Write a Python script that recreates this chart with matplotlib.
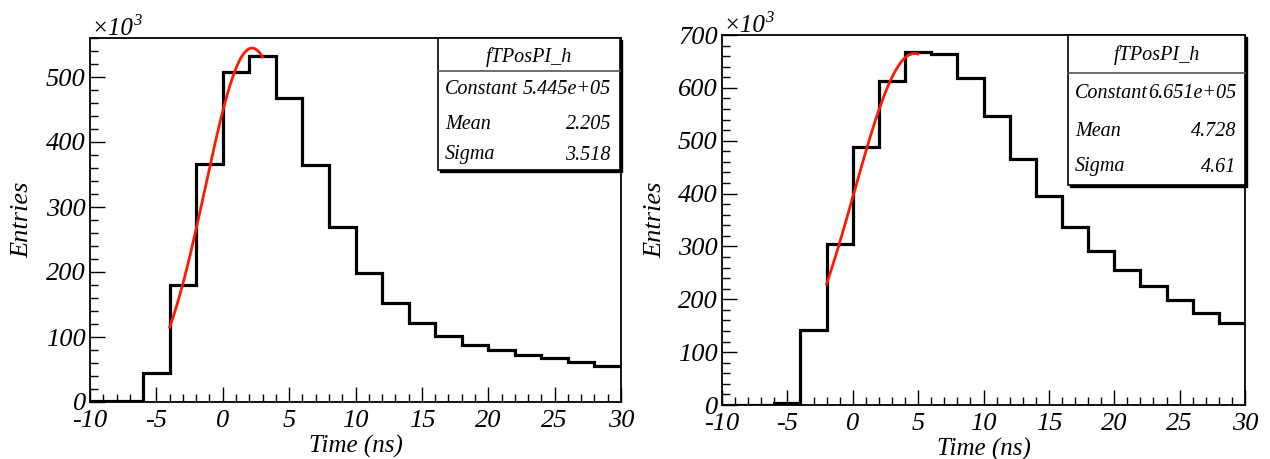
import numpy as np
import matplotlib
matplotlib.use('Agg')
import matplotlib.pyplot as plt
from matplotlib.patches import Rectangle
from matplotlib.ticker import MultipleLocator

plt.rcParams['font.family'] = 'Liberation Serif'
plt.rcParams['font.style'] = 'italic'
plt.rcParams['axes.unicode_minus'] = False

# bin edges (ns) and contents (x10^3 entries)
edges = np.arange(-10, 31, 2)
left_counts = [1, 1, 44, 180, 366, 508, 533, 468, 364, 270, 199, 152, 121, 101, 88, 80, 73, 67, 61, 55]
right_counts = [0, 0, 4, 141, 304, 489, 613, 668, 665, 619, 546, 466, 395, 336, 292, 255, 225, 198, 175, 156]

# gaussian fit results
left_fit = {'Constant': 5.445e5, 'Mean': 2.205, 'Sigma': 3.518}
right_fit = {'Constant': 6.651e5, 'Mean': 4.728, 'Sigma': 4.61}
left_fit_range = (-4, 3)
right_fit_range = (-2, 5)
left_labels = ['5.445e+05', '2.205', '3.518']
right_labels = ['6.651e+05', '4.728', '4.61']

W, H = 1270, 459
fig = plt.figure(figsize=(W / 100, H / 100), dpi=100)


def fx(px):
    return px / W


def fy(py):
    return 1 - py / H


def panel(x0, x1, y0, y1, counts, fit, frange, ymax, flabels, box, rows_y, sep_y):
    ax = fig.add_axes([fx(x0), fy(y1), fx(x1) - fx(x0), fy(y0) - fy(y1)])
    ax.stairs(counts, edges, color='black', lw=2.3, baseline=None)
    xs = np.linspace(frange[0], frange[1], 200)
    ys = fit['Constant'] * np.exp(-0.5 * ((xs - fit['Mean']) / fit['Sigma']) ** 2) / 1000
    ax.plot(xs, ys, color='#ff1a00', lw=2)
    ax.set_xlim(-10, 30)
    ax.set_ylim(0, ymax)
    ax.xaxis.set_major_locator(MultipleLocator(5))
    ax.xaxis.set_minor_locator(MultipleLocator(1))
    ax.yaxis.set_major_locator(MultipleLocator(100))
    ax.yaxis.set_minor_locator(MultipleLocator(20))
    ax.tick_params(which='both', direction='in', top=False, right=False, width=1)
    ax.tick_params(which='major', length=11, labelsize=19)
    ax.tick_params(which='minor', length=6)
    ax.tick_params(axis='x', pad=6)
    ax.tick_params(axis='y', pad=3)
    for s in ax.spines.values():
        s.set_linewidth(1.3)
    ax.set_xlabel('Time (ns)', fontsize=18, labelpad=0)
    ax.set_ylabel('Entries', fontsize=19, labelpad=6)
    ax.xaxis.set_label_coords(0.5, -0.09)
    ax.yaxis.set_label_coords(-0.106, 0.5)

    # x10^3 marker
    fig.text(fx(x0 + 1), fy(y0 - 3), '\u00d710', fontsize=18, va='baseline', ha='left')
    fig.text(fx(x0 + 43), fy(y0 - 13), '3', fontsize=12, va='baseline', ha='left')

    # stats box
    bx0, bx1, by0, by1 = box
    shadow = Rectangle((fx(bx0 + 2), fy(by1 + 2)), fx(bx1) - fx(bx0), fy(by0) - fy(by1),
                       transform=fig.transFigure, facecolor='black', edgecolor='black', lw=1, zorder=5)
    rect = Rectangle((fx(bx0), fy(by1)), fx(bx1) - fx(bx0), fy(by0) - fy(by1),
                     transform=fig.transFigure, facecolor='white', edgecolor='black', lw=1.2, zorder=6)
    fig.patches.extend([shadow, rect])
    fig.add_artist(plt.Line2D([fx(bx0), fx(bx1)], [fy(sep_y), fy(sep_y)], transform=fig.transFigure,
                              color='#555555', lw=1.2, zorder=7))
    fig.text(fx((bx0 + bx1) / 2), fy(rows_y[0]), 'fTPosPI_h', fontsize=14.5, ha='center', va='center', zorder=8)
    for name, val, yy in zip(['Constant', 'Mean', 'Sigma'], flabels, rows_y[1:]):
        fig.text(fx(bx0 + 7), fy(yy), name, fontsize=14.5, ha='left', va='center', zorder=8)
        fig.text(fx(bx1 - 9), fy(yy), val, fontsize=14.5, ha='right', va='center', zorder=8)
    return ax


panel(90, 621, 38, 402, left_counts, left_fit, left_fit_range, 560, left_labels,
      (438, 620, 38, 170), [57, 89, 124, 155], 71)
panel(722, 1245, 35, 405, right_counts, right_fit, right_fit_range, 700, right_labels,
      (1068, 1245, 35, 185), [55, 93, 132, 167], 73)

fig.savefig('out.png', dpi=100)
